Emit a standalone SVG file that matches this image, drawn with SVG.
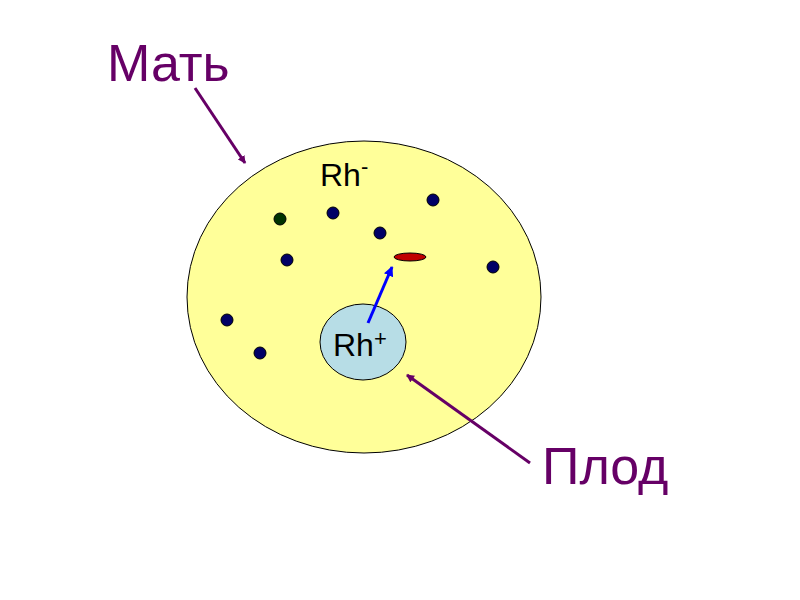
<svg xmlns="http://www.w3.org/2000/svg" width="800" height="600" viewBox="0 0 800 600">
<style>
.lbl{font-family:"Liberation Sans",Arial,sans-serif;fill:#660066;font-size:52px}
.rh{font-family:"Liberation Sans",Arial,sans-serif;fill:#000;font-size:32px}
.dot{fill:#000066;stroke:#000;stroke-width:1}
</style>
<defs>
<marker id="ap" markerWidth="8" markerHeight="8" refX="7" refY="4" orient="auto" markerUnits="userSpaceOnUse"><path d="M0,0 L8,4 L0,8 Z" fill="#660066"/></marker>
<marker id="ab" markerWidth="10" markerHeight="10" refX="9" refY="5" orient="auto" markerUnits="userSpaceOnUse"><path d="M0,0 L10,5 L0,10 Z" fill="#0000ff"/></marker>
</defs>
<rect width="800" height="600" fill="#fff"/>
<g id="mother"><ellipse cx="364" cy="297" rx="177" ry="156" fill="#ffff99" stroke="#000" stroke-width="1"/>
<text class="rh" x="320" y="186">Rh<tspan font-size="22" dy="-12">-</tspan></text></g>
<g id="dots">
<circle cx="280" cy="219" r="6" fill="#003300" stroke="#000"/>
<circle class="dot" cx="333" cy="213" r="6"/><circle class="dot" cx="380" cy="233" r="6"/>
<circle class="dot" cx="433" cy="200" r="6"/><circle class="dot" cx="287" cy="260" r="6"/>
<circle class="dot" cx="493" cy="267" r="6"/><circle class="dot" cx="227" cy="320" r="6"/>
<circle class="dot" cx="260" cy="353" r="6"/>
<ellipse cx="410" cy="257" rx="16" ry="4" fill="#c00000" stroke="#000" stroke-width="1"/></g>
<g id="fetus"><ellipse cx="363" cy="342" rx="43" ry="38" fill="#b7dde6" stroke="#000" stroke-width="1"/>
<text class="rh" x="333" y="356">Rh<tspan font-size="22" dy="-10">+</tspan></text></g>
<g id="labels"><text class="lbl" x="107" y="81">Мать</text><text class="lbl" x="542" y="484">Плод</text></g>
<g id="connectors" fill="none">
<line x1="195" y1="88" x2="245" y2="163" stroke="#660066" stroke-width="3" marker-end="url(#ap)"/>
<line x1="530" y1="463" x2="407" y2="375" stroke="#660066" stroke-width="3" marker-end="url(#ap)"/>
<line x1="368" y1="323" x2="392" y2="267" stroke="#0000ff" stroke-width="3" marker-end="url(#ab)"/>
</g>
</svg>
